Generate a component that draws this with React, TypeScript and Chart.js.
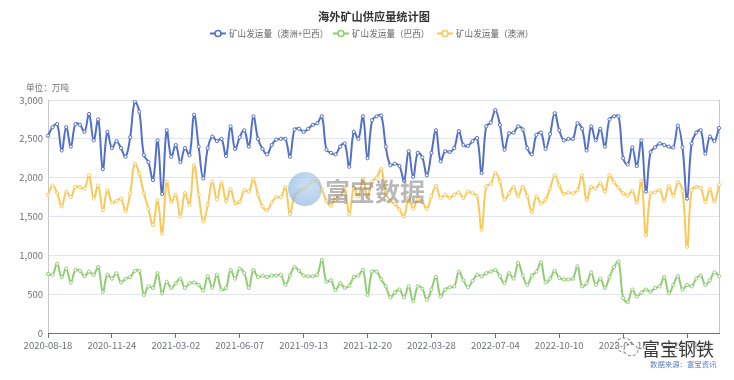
import React, { useEffect, useRef } from 'react';
import { Chart, registerables } from 'chart.js';

Chart.register(...registerables);

const TITLE = '海外矿山供应量统计图';
const UNIT_LABEL = '单位：万吨';
const SOURCE_LABEL = '数据来源：富宝资讯';
const WATERMARK = '富宝数据';
const BRAND = '富宝钢铁';

const SERIES_NAMES = ['矿山发运量（澳洲+巴西）', '矿山发运量（巴西）', '矿山发运量（澳洲）'];
const COLORS = ['#5470c6', '#91cc75', '#fac858'];

const TICK_LABELS = [
  '2020-08-18', '2020-11-24', '2021-03-02', '2021-06-07', '2021-09-13', '2021-12-20',
  '2022-03-28', '2022-07-04', '2022-10-10', '2023-01-16', '2023-04-24',
];
const TICK_EVERY = 14;
const START_DATE = '2020-08-18';

const TOTAL = [
  2540, 2650, 2690, 2350, 2650, 2400, 2690, 2680, 2590, 2820,
  2480, 2750, 2110, 2590, 2380, 2470, 2380, 2270, 2520, 2980,
  2850, 2290, 2200, 1970, 2480, 1790, 2610, 2270, 2420, 2200,
  2380, 2290, 2810, 2400, 1990, 2380, 2530, 2470, 2500, 2280,
  2660, 2370, 2520, 2610, 2400, 2790, 2500, 2370, 2300, 2420,
  2490, 2500, 2500, 2270, 2620, 2630, 2590, 2630, 2680, 2700,
  2790, 2360, 2320, 2300, 2400, 2440, 2140, 2590, 2500, 2790,
  2250, 2740, 2790, 2800, 2400, 2160, 2180, 2150, 1960, 2340,
  2010, 2320, 2260, 2030, 2320, 2610, 2210, 2340, 2330, 2380,
  2600, 2420, 2410, 2470, 2510, 2060, 2660, 2710, 2870, 2680,
  2360, 2570, 2580, 2660, 2620, 2380, 2300, 2550, 2580, 2370,
  2560, 2830, 2610, 2480, 2500, 2500, 2700, 2630, 2350, 2660,
  2480, 2630, 2400, 2750, 2790, 2790, 2250, 2170, 2390, 2150,
  2480, 1820, 2330, 2390, 2440, 2420, 2400, 2390, 2670, 2390,
  1730, 2440, 2580, 2610, 2310, 2530, 2470, 2640,
];

const BRAZIL = [
  760, 750, 890, 720, 830, 650, 810, 800, 730, 790,
  750, 850, 530, 750, 700, 770, 650, 700, 720, 800,
  800, 490, 600, 580, 770, 510, 660, 580, 640, 700,
  580, 640, 650, 620, 550, 730, 580, 750, 560, 580,
  810, 700, 830, 770, 580, 810, 720, 740, 720, 740,
  740, 750, 620, 740, 850, 800, 740, 730, 730, 750,
  940, 660, 680, 550, 640, 580, 610, 720, 740, 810,
  490, 790, 790, 690, 600, 460, 520, 560, 460, 600,
  410, 600, 570, 430, 560, 720, 470, 560, 590, 600,
  790, 680, 590, 670, 750, 730, 770, 790, 810, 730,
  640, 770, 700, 900, 740, 620, 740, 790, 910, 650,
  700, 800, 710, 690, 690, 700, 860, 600, 640, 780,
  620, 700, 580, 720, 850, 920, 450, 400, 560, 470,
  520, 560, 530, 580, 600, 720, 510, 620, 730, 560,
  620, 600, 700, 740, 620, 680, 780, 730,
];

const AUSTRALIA = [
  1780, 1900, 1800, 1630, 1820, 1750, 1880, 1880, 1860, 2030,
  1730, 1900, 1580, 1840, 1680, 1700, 1730, 1570, 1800, 2180,
  2050, 1800, 1600, 1390, 1710, 1280, 1950, 1690, 1780, 1500,
  1800, 1650, 2160, 1780, 1440, 1650, 1950, 1720, 1940, 1700,
  1850, 1670, 1690, 1840, 1820, 1980, 1780, 1630, 1580, 1680,
  1750, 1750, 1880, 1530, 1770, 1830, 1850, 1900, 1950, 1950,
  1850, 1700, 1640, 1750, 1760, 1860, 1530, 1870, 1760, 1980,
  1760, 1950, 2000, 2110, 1800, 1700, 1660, 1590, 1500, 1740,
  1600, 1720, 1690, 1600, 1760, 1890, 1740, 1780, 1740, 1780,
  1810, 1740, 1820, 1800, 1760, 1330, 1890, 1920, 2060, 1950,
  1720, 1800, 1880, 1760, 1880, 1760, 1560, 1760, 1670, 1720,
  1860, 2030, 1900, 1790, 1810, 1800, 1840, 2030, 1710, 1880,
  1860, 1930, 1820, 2030, 1940, 1870, 1800, 1770, 1830, 1680,
  1960, 1260, 1800, 1810, 1840, 1700, 1890, 1770, 1940, 1830,
  1110, 1840, 1880, 1870, 1690, 1850, 1690, 1910,
];

const Y_MIN = 0;
const Y_MAX = 3000;
const Y_STEP = 500;

function weekLabel(i: number): string {
  if (i % TICK_EVERY === 0 && TICK_LABELS[i / TICK_EVERY]) return TICK_LABELS[i / TICK_EVERY];
  const d = new Date(START_DATE + 'T00:00:00Z');
  d.setUTCDate(d.getUTCDate() + i * 7);
  return d.toISOString().slice(0, 10);
}

const CATEGORIES = TOTAL.map((_, i) => weekLabel(i));

const FONT = "'Noto Sans CJK SC', 'Noto Sans', sans-serif";
const AXIS_TEXT = '#6e7079';

const edgeLines = {
  id: 'edgeLines',
  beforeDatasetsDraw(chart: any) {
    const { ctx, chartArea } = chart;
    ctx.save();
    ctx.strokeStyle = '#c9c9c9';
    ctx.lineWidth = 1;
    ctx.beginPath();
    ctx.moveTo(Math.round(chartArea.left) + 0.5, chartArea.top);
    ctx.lineTo(Math.round(chartArea.left) + 0.5, chartArea.bottom);
    ctx.moveTo(Math.round(chartArea.right) + 0.5, chartArea.top);
    ctx.lineTo(Math.round(chartArea.right) + 0.5, chartArea.bottom);
    ctx.stroke();
    ctx.restore();
  },
};

function LegendIcon({ color }: { color: string }) {
  return (
    <svg width="16" height="9" style={{ display: 'block' }}>
      <line x1="0" y1="4.5" x2="16" y2="4.5" stroke={color} strokeWidth="2" />
      <circle cx="8" cy="4.5" r="3" fill="#fff" stroke={color} strokeWidth="1.6" />
    </svg>
  );
}

function Txt(props: { x: number; y: number; size: number; color: string; bold?: boolean; children: any; style?: any }) {
  return (
    <div
      style={{
        position: 'absolute',
        left: props.x,
        top: props.y,
        transform: 'translateY(-50%)',
        fontSize: props.size,
        lineHeight: 1,
        color: props.color,
        fontWeight: props.bold ? 700 : 400,
        fontFamily: FONT,
        whiteSpace: 'nowrap',
        pointerEvents: 'none',
        ...(props.style || {}),
      }}
    >
      {props.children}
    </div>
  );
}

export default function App() {
  const canvasRef = useRef<HTMLCanvasElement | null>(null);

  useEffect(() => {
    if (!canvasRef.current) return;
    Chart.defaults.font.family = FONT;
    const seriesData = [TOTAL, BRAZIL, AUSTRALIA];
    const chart = new Chart(canvasRef.current, {
      type: 'line',
      data: {
        labels: CATEGORIES,
        datasets: seriesData.map((d, k) => ({
          label: SERIES_NAMES[k],
          data: d,
          borderColor: COLORS[k],
          backgroundColor: '#ffffff',
          borderWidth: 2,
          pointRadius: 1.6,
          pointBorderWidth: 1,
          pointBackgroundColor: '#ffffff',
          pointBorderColor: COLORS[k],
          tension: 0.4,
          fill: false,
        })),
      },
      options: {
        animation: false,
        responsive: true,
        maintainAspectRatio: false,
        layout: { padding: { left: 0, right: 15, top: 100, bottom: 0 } },
        plugins: {
          legend: { display: false },
          title: { display: false },
          tooltip: { enabled: false },
        },
        scales: {
          x: {
            type: 'category',
            offset: false,
            grid: {
              display: true,
              drawOnChartArea: false,
              drawTicks: true,
              tickLength: 5,
              color: (c: any) => (c.index % TICK_EVERY === 0 ? AXIS_TEXT : 'rgba(0,0,0,0)'),
              tickColor: (c: any) => (c.index % TICK_EVERY === 0 ? AXIS_TEXT : 'rgba(0,0,0,0)'),
            },
            border: { display: true, color: AXIS_TEXT, width: 1 },
            ticks: {
              autoSkip: false,
              maxRotation: 0,
              minRotation: 0,
              padding: 2,
              color: AXIS_TEXT,
              font: { size: 9.5 },
              callback: (_v: any, i: number) => (i % TICK_EVERY === 0 ? TICK_LABELS[i / TICK_EVERY] || '' : ''),
            },
            afterFit: (s: any) => {
              s.height = 47;
            },
          },
          y: {
            min: Y_MIN,
            max: Y_MAX,
            grid: { color: '#e0e6f1', drawTicks: false },
            border: { display: false },
            ticks: {
              stepSize: Y_STEP,
              padding: 5,
              color: AXIS_TEXT,
              font: { size: 9.5 },
              callback: (v: any) => Number(v).toLocaleString('en-US'),
            },
            afterFit: (s: any) => {
              s.width = 48;
            },
          },
        },
      },
      plugins: [edgeLines],
    } as any);
    return () => chart.destroy();
  }, []);

  const legendItems = [
    { x: 210, textX: 229 },
    { x: 333, textX: 352 },
    { x: 437, textX: 456 },
  ];

  return (
    <div style={{ position: 'fixed', left: 0, top: 0, width: 734, height: 380, background: '#fff', overflow: 'hidden' }}>
      <canvas ref={canvasRef} style={{ position: 'absolute', left: 0, top: 0, width: 734, height: 380 }} />
      <Txt x={318} y={16.5} size={11.2} color="#333" bold>
        {TITLE}
      </Txt>
      {legendItems.map((it, k) => (
        <React.Fragment key={k}>
          <div style={{ position: 'absolute', left: it.x, top: 28.5, pointerEvents: 'none' }}>
            <LegendIcon color={COLORS[k]} />
          </div>
          <Txt x={it.textX} y={33} size={8.6} color="#666">
            {SERIES_NAMES[k]}
          </Txt>
        </React.Fragment>
      ))}
      <Txt x={26} y={87} size={8.6} color={AXIS_TEXT}>
        {UNIT_LABEL}
      </Txt>
      <div
        style={{
          position: 'absolute',
          left: 288,
          top: 172,
          width: 34,
          height: 34,
          borderRadius: '50%',
          background: 'radial-gradient(circle at 60% 40%, rgba(190,215,240,0.75), rgba(90,150,210,0.55))',
          pointerEvents: 'none',
        }}
      />
      <Txt x={325} y={190} size={25} color="rgba(125,125,125,0.55)" bold>
        {WATERMARK}
      </Txt>
      <svg width="26" height="22" style={{ position: 'absolute', left: 614, top: 336, pointerEvents: 'none' }}>
        <ellipse cx="10" cy="9" rx="8.5" ry="7" fill="none" stroke="#777" strokeWidth="1" strokeDasharray="3 2" />
        <ellipse cx="17" cy="14" rx="7" ry="5.8" fill="#fff" stroke="#777" strokeWidth="1" strokeDasharray="3 2" />
      </svg>
      <Txt x={642} y={348} size={18} color="#3a3a3a" style={{ textShadow: '0 0 2px #fff, 0 0 2px #fff' }}>
        {BRAND}
      </Txt>
      <Txt x={650} y={364} size={7.4} color="#5b7dc4">
        {SOURCE_LABEL}
      </Txt>
    </div>
  );
}
